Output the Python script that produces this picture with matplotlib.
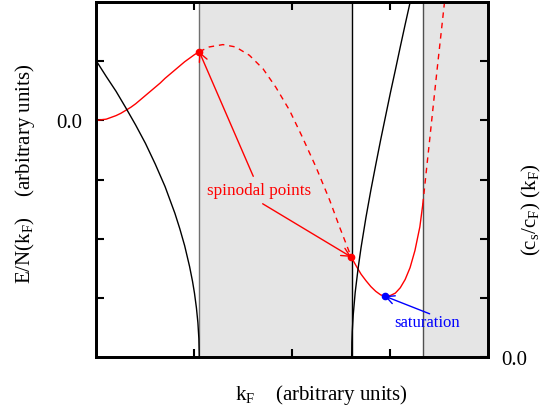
import numpy as np
import matplotlib
matplotlib.use('Agg')
import matplotlib.pyplot as plt

plt.rcParams['font.family'] = ['Liberation Serif', 'DejaVu Serif']
plt.rcParams['mathtext.fontset'] = 'custom'
plt.rcParams['mathtext.rm'] = 'Liberation Serif'
plt.rcParams['mathtext.it'] = 'Liberation Serif:italic'

# energy per particle E/N vs k_F (left axis), split into stable / unstable parts
k_stable1 = [0.0, 0.05, 0.10, 0.15, 0.20, 0.25, 0.30, 0.35, 0.40, 0.45, 0.50,
             0.55, 0.60, 0.65, 0.70, 0.75, 0.80, 0.85, 0.90, 0.95, 1.00, 1.049]
e_stable1 = [0.0, 0.01, 0.02, 0.05, 0.08, 0.12, 0.17, 0.22, 0.28, 0.35, 0.42,
             0.49, 0.56, 0.63, 0.71, 0.78, 0.85, 0.92, 0.99, 1.05, 1.11, 1.16]

k_unstable = [1.049, 1.15, 1.29, 1.42, 1.56, 1.70, 1.83, 1.97, 2.10, 2.24, 2.38, 2.48, 2.60]
e_unstable = [1.16, 1.24, 1.28, 1.24, 1.10, 0.87, 0.56, 0.17, -0.28, -0.79, -1.35, -1.80, -2.31]

k_stable2 = [2.60, 2.65, 2.70, 2.75, 2.80, 2.85, 2.90, 2.94, 3.00, 3.05, 3.10,
             3.15, 3.20, 3.25, 3.30, 3.33]
e_stable2 = [-2.31, -2.46, -2.60, -2.71, -2.81, -2.89, -2.95, -2.97, -2.96, -2.92, -2.83,
             -2.69, -2.49, -2.20, -1.80, -1.42]

k_high = [3.33, 3.36, 3.40, 3.44, 3.48, 3.52, 3.555]
e_high = [-1.42, -0.95, -0.33, 0.30, 0.92, 1.52, 2.05]

# sound speed (c_s/c_F)(k_F), right axis
k_cs1 = [0.0, 0.1, 0.2, 0.3, 0.4, 0.5, 0.6, 0.7, 0.8, 0.85, 0.9, 0.95,
         0.98, 1.0, 1.02, 1.035, 1.045, 1.049]
cs1 = [5.0, 4.74, 4.49, 4.21, 3.92, 3.61, 3.26, 2.88, 2.43, 2.17, 1.88, 1.53,
       1.28, 1.08, 0.83, 0.58, 0.31, 0.0]
k_cs2 = [2.604, 2.606, 2.61, 2.62, 2.64, 2.67, 2.70, 2.75, 2.80, 2.85, 2.90,
         2.95, 3.00, 3.05, 3.10, 3.15, 3.20, 3.21]
cs2 = [0.0, 0.25, 0.43, 0.71, 1.09, 1.50, 1.85, 2.36, 2.82, 3.25, 3.67,
       4.07, 4.47, 4.85, 5.24, 5.62, 5.99, 6.06]

# spinodal and saturation points
spin_k = [k_stable1[-1], k_stable2[0]]
spin_e = [e_stable1[-1], e_stable2[0]]
sat_k = k_stable2[7]
sat_e = e_stable2[7]

# unstable density bands
bands = [(1.049, 2.604), (3.329, 4.0)]

fig = plt.figure(figsize=(5.42, 4.10), dpi=100)
ax = fig.add_axes([0.178, 0.1268, 0.7232, 0.8659])
ax2 = ax.twinx()

for lo, hi in bands:
    ax.axvspan(lo, hi, color='#e5e5e5', lw=0, zorder=0)
ax.axvline(1.049, color='#707070', lw=1.0, zorder=1)
ax.axvline(2.604, color='black', lw=1.0, zorder=1)
ax.axvline(3.329, color='#505050', lw=1.0, zorder=1)

ax.plot(k_stable1, e_stable1, color='red', lw=1.0, zorder=3)
ax.plot(k_unstable, e_unstable, color='red', lw=1.0, ls=(0, (4, 3.5)), zorder=3)
ax.plot(k_stable2, e_stable2, color='red', lw=1.0, zorder=3)
ax.plot(k_high, e_high, color='red', lw=1.0, ls=(0, (4, 3.5)), zorder=3)
ax.plot(spin_k, spin_e, 'o', color='red', ms=4.5, zorder=4)
ax.plot([sat_k], [sat_e], 'o', color='blue', ms=4.5, zorder=4)

ax2.plot(k_cs1, cs1, color='black', lw=1.0)
ax2.plot(k_cs2, cs2, color='black', lw=1.0)

arrow = dict(arrowstyle='->,head_length=0.6,head_width=0.3', color='red', lw=1.0,
             shrinkA=0, shrinkB=0)
ax.annotate('', xy=(spin_k[0], spin_e[0]), xytext=(1.60, -0.946), arrowprops=arrow)
ax.annotate('', xy=(spin_k[1], spin_e[1]), xytext=(1.696, -1.41), arrowprops=arrow)
ax.text(1.658, -1.17, 'spinodal points', color='red', fontsize=12.3, ha='center', va='center')

arrow_b = dict(arrow, color='blue')
ax.annotate('', xy=(sat_k, sat_e), xytext=(3.40, -3.27), arrowprops=arrow_b)
ax.text(3.372, -3.41, 'saturation', color='blue', fontsize=12, ha='center', va='center')

ax.set_xlim(0, 4)
ax.set_ylim(-4, 2)
ax2.set_ylim(0, 6)
ax.set_xticks([1, 2, 3])
ax.set_xticklabels([])
ax.set_yticks([-3, -2, -1, 0, 1])
ax.set_yticklabels(['', '', '', '0.0', ''])
ax2.set_yticks([0, 1, 2, 3, 4, 5])
ax2.set_yticklabels(['0.0', '', '', '', '', ''])

ax.tick_params(axis='both', direction='in', length=6, width=1.5, labelsize=15,
               top=True, pad=10)
ax2.tick_params(axis='y', direction='in', length=6, width=1.5, labelsize=15, pad=9)
for a in (ax, ax2):
    for s in a.spines.values():
        s.set_linewidth(2)

fig.text(25 / 542, 1 - 174 / 410, 'E/N(k$_\\mathrm{F}$)    (arbitrary units)',
         rotation=90, ha='center', va='center', fontsize=15)
fig.text(321 / 542, 1 - 395 / 410, 'k$_\\mathrm{F}$    (arbitrary units)',
         ha='center', va='center', fontsize=15)
fig.text(531 / 542, 1 - 210 / 410,
         '(c$_\\mathrm{s}$/c$_\\mathrm{F}$) (k$_\\mathrm{F}$)',
         rotation=90, ha='center', va='center', fontsize=15)

fig.savefig('out.png', dpi=100)
